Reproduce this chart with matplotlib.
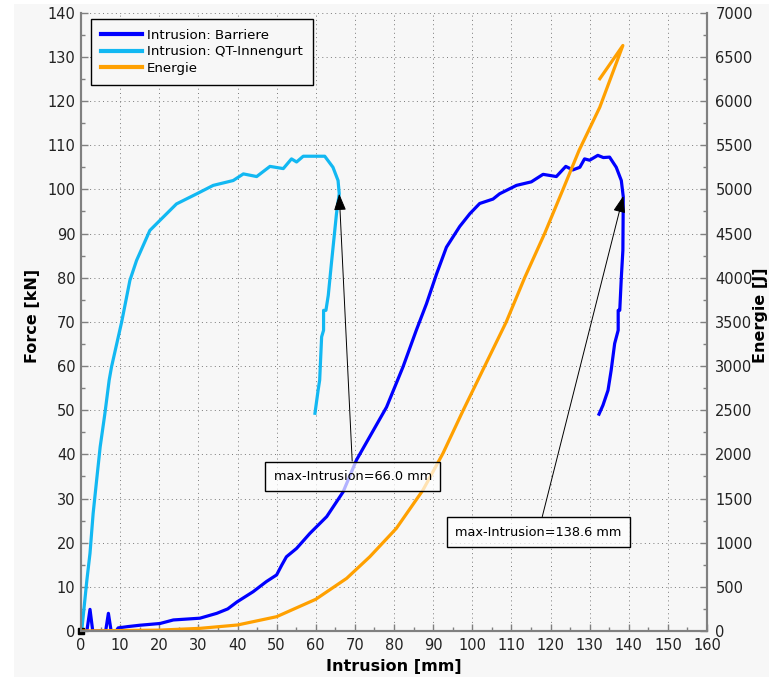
import matplotlib

matplotlib.use("Agg")
import matplotlib.pyplot as plt  # noqa: E402
from matplotlib.patches import Rectangle  # noqa: E402
from matplotlib.ticker import MultipleLocator  # noqa: E402

# --- data ------------------------------------------------------------------
barriere_mm = [0, 1.5, 2.3, 3.0, 6.3, 7.0, 7.7, 9.0, 9.5, 12, 15, 20.2, 23.6,
               27, 30.4, 34.7, 37.5, 39.9, 44.0, 47.4, 50.0, 51.3, 52.5, 55.1,
               58.5, 62.8, 67.0, 70.4, 73.8, 78.1, 82.3, 85.7, 88.3, 90.9,
               93.4, 96.8, 99.4, 101.9, 105.3, 107.0, 111.3, 115.1, 118.1,
               121.5, 123.9, 125.7, 127.5, 128.7, 130.0, 132.1, 133.5, 135.1,
               136.8, 138.1, 138.6, 138.5, 138.1, 137.7, 137.3, 137.3, 136.4,
               135.5, 134.7, 133.4, 132.4]
barriere_kn = [0, 0, 4.9, 0, 0, 4.0, 0, 0, 0.7, 1.0, 1.3, 1.7, 2.5,
               2.7, 2.9, 4.0, 5.0, 6.6, 8.9, 11.2, 12.7, 14.9, 16.8, 18.7,
               22.1, 25.9, 31.5, 38.7, 44.0, 50.7, 59.8, 68.1, 74.1, 80.9,
               86.9, 91.6, 94.5, 96.8, 97.8, 99.0, 100.9, 101.7, 103.4,
               102.9, 105.2, 104.4, 105.0, 106.9, 106.6, 107.7, 107.2, 107.3,
               105.0, 102.0, 98.3, 86.2, 80.0, 72.6, 72.6, 68.1, 65.1,
               59.0, 54.5, 51.1, 49.1]

qt_mm = [0, 0.2, 1.5, 2.3, 3.1, 4.0, 4.9, 6.1, 7.2, 7.8, 10.4, 12.5, 14.2,
         17.6, 20.2, 24.4, 29.6, 33.8, 38.9, 41.5, 44.9, 48.3, 51.7, 53.8,
         55.1, 56.8, 59.3, 62.3, 64.4, 65.7, 66.0, 65.3, 64.0, 63.2, 62.6,
         62.0, 62.0, 61.5, 61.0, 60.6, 59.8]
qt_kn = [0, 0.2, 11.5, 17.6, 26.6, 34.2, 41.7, 49.2, 56.8, 59.8, 70.0, 79.4,
         83.9, 90.7, 93.0, 96.7, 99.0, 100.9, 102.0, 103.5, 102.9, 105.2,
         104.7, 106.9, 106.2, 107.5, 107.5, 107.5, 105.0, 102.0, 99.0, 94.5,
         83.2, 76.0, 72.6, 72.6, 68.1, 66.6, 56.8, 54.5, 49.3]

energie_mm = [0, 10, 20, 30.4, 40, 50, 60, 67.9, 73.8, 80.6, 87.4, 92.5,
              97.7, 103.2, 108.7, 113.4, 118.5, 123.2, 127.3, 132.6, 138.5,
              132.6]
energie_j = [0, 5, 10, 30, 68, 162, 359, 596, 840, 1162, 1595, 2010,
             2500, 3000, 3500, 4000, 4500, 5000, 5441, 5930, 6629, 6252]

origin = [0]

max_labels = ["max-Intrusion=66.0 mm", "max-Intrusion=138.6 mm"]
max_points = [(66.0, 99.0), (138.6, 98.5)]
max_text_pos = [(69.5, 35.0), (116.9, 22.4)]

BG = "#f7f7f7"
SPINE = "#808080"
C_BARR = "#0000ff"
C_QT = "#12b8f2"
C_ENERG = "#ffa000"

fig = plt.figure(figsize=(7.69, 6.77), dpi=100)
fig.patch.set_facecolor("white")
# light grey canvas, the reference is cropped off a bigger figure
fig.add_artist(Rectangle((14 / 769, 0), 1, 673 / 677, transform=fig.transFigure,
                         facecolor=BG, edgecolor="none", zorder=-10))

ax = fig.add_axes([81 / 769, 46 / 677, 626 / 769, 618.3 / 677])
ax.set_facecolor(BG)
ax2 = ax.twinx()

l1, = ax.plot(barriere_mm, barriere_kn, color=C_BARR, lw=2.3,
              label="Intrusion: Barriere")
l2, = ax.plot(qt_mm, qt_kn, color=C_QT, lw=2.3,
              label="Intrusion: QT-Innengurt")
l3, = ax2.plot(energie_mm, energie_j, color=C_ENERG, lw=2.3, label="Energie")
ax.plot(origin, origin, "s", color="black", ms=5, clip_on=False, zorder=5)

ax.set_xlim(0, 160)
ax.set_ylim(0, 140)
ax2.set_ylim(0, 7000)

ax.xaxis.set_major_locator(MultipleLocator(10))
ax.xaxis.set_minor_locator(MultipleLocator(5))
ax.yaxis.set_major_locator(MultipleLocator(10))
ax.yaxis.set_minor_locator(MultipleLocator(5))
ax2.yaxis.set_major_locator(MultipleLocator(500))
ax2.yaxis.set_minor_locator(MultipleLocator(250))

ax.grid(True, which="major", linestyle=(0, (1, 3.3)), color="#808080", lw=0.72)

for a in (ax, ax2):
    a.spines["top"].set_visible(False)
    for s in ("left", "right", "bottom"):
        a.spines[s].set_color(SPINE)
        a.spines[s].set_linewidth(1.5)
    a.tick_params(which="both", direction="in", color=SPINE, labelsize=10.5,
                  labelcolor="#222222")
    a.tick_params(which="major", length=5, width=1)
    a.tick_params(which="minor", length=3, width=1)
ax2.patch.set_visible(False)
ax.tick_params(axis="y", pad=4)
ax.tick_params(axis="x", pad=5)
ax2.tick_params(axis="y", pad=6)

ax.set_xlabel("Intrusion [mm]", fontsize=11.5, fontweight="bold")
ax.set_ylabel("Force [kN]", fontsize=11.5, fontweight="bold")
ax2.set_ylabel("Energie [J]", fontsize=11.5, fontweight="bold")
ax.xaxis.set_label_coords(0.5, -0.057)
ax.xaxis.label.set_va("center")
ax.yaxis.set_label_coords(-0.078, 0.51)
ax.yaxis.label.set_va("center")
ax2.yaxis.set_label_coords(1.086, 0.51)
ax2.yaxis.label.set_va("center")
ax2.yaxis.label.set_rotation(90)

# annotations live on ax2 so their boxes sit above the energy curve
for text, xy, xyt in zip(max_labels, max_points, max_text_pos):
    ax2.annotate(text, xy=xy, xycoords=ax.transData, xytext=xyt,
                 textcoords=ax.transData, fontsize=9.3, ha="center", va="center",
                 bbox=dict(boxstyle="square,pad=0.65", fc=(1, 1, 1, 0.7),
                           ec="black", lw=1),
                 arrowprops=dict(arrowstyle="-|>,head_width=0.4,head_length=1.1",
                                 color="black", lw=0.7, shrinkA=0, shrinkB=0))

leg = ax2.legend(handles=[l1, l2, l3], loc="upper left",
                 bbox_to_anchor=(0.016, 0.99), borderaxespad=0, fontsize=9.6,
                 fancybox=False, edgecolor="black", facecolor=BG, framealpha=1,
                 handlelength=3.1, handletextpad=0.35, labelspacing=0.25,
                 borderpad=0.75)
leg.get_frame().set_linewidth(1.0)
for h in leg.get_lines():
    h.set_linewidth(3)

fig.savefig("out.png", dpi=100)
